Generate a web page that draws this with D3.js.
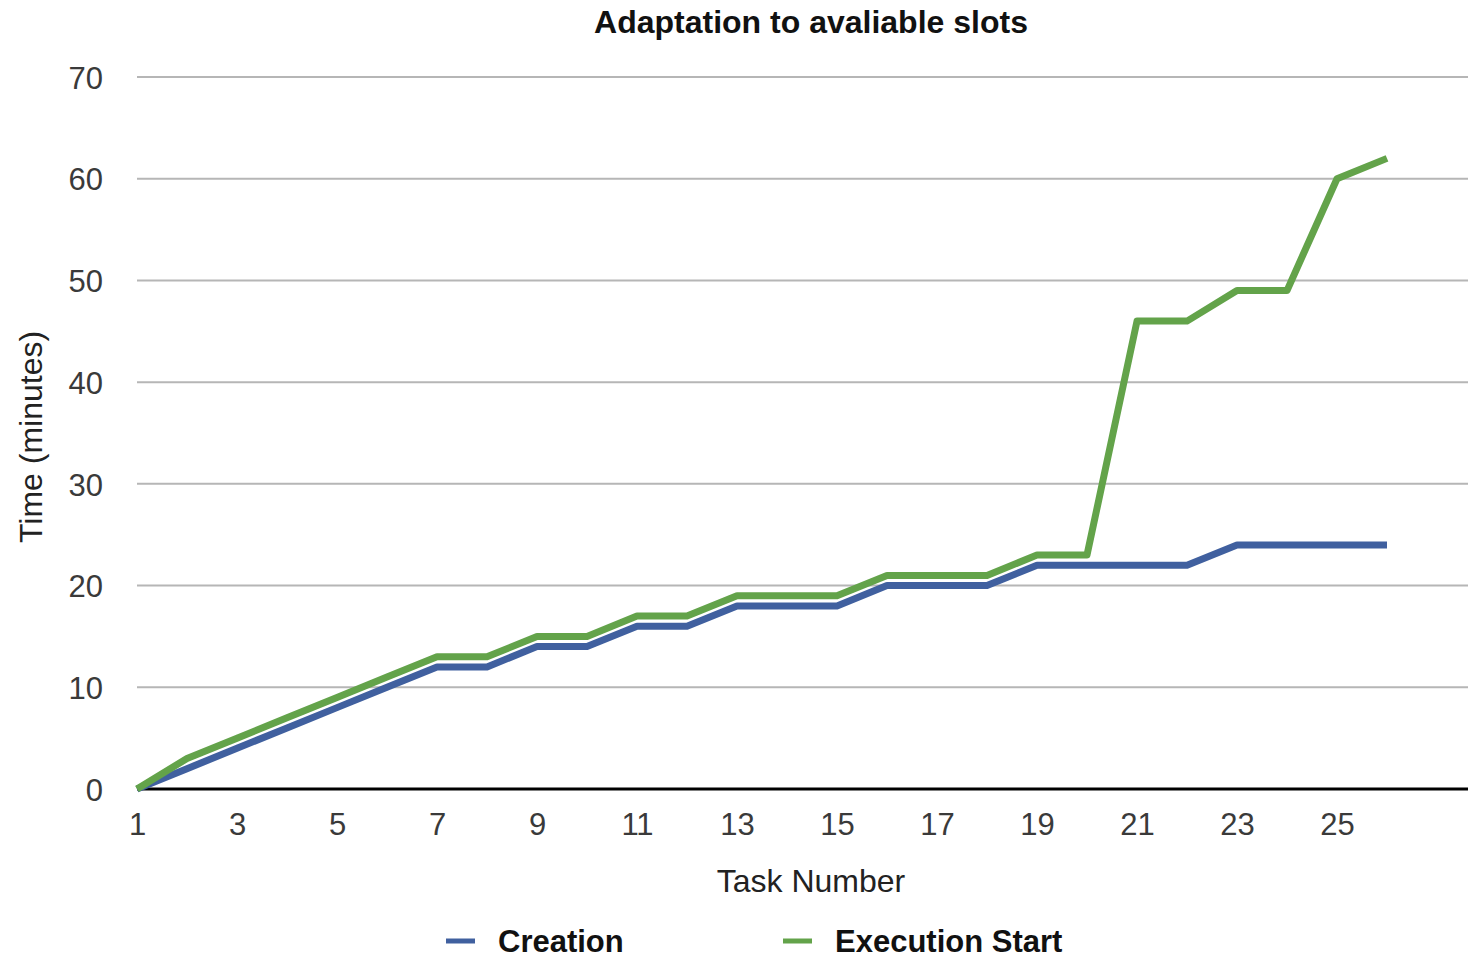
<!DOCTYPE html>
<html>
<head>
<meta charset="utf-8">
<script src="https://cdn.jsdelivr.net/npm/d3@7"></script>
<style>
  html, body { margin: 0; padding: 0; background: #fff; }
  svg { display: block; }
  text { font-family: "Liberation Sans", Arial, Helvetica, sans-serif; }
</style>
</head>
<body>
<svg id="chart" width="1470" height="960"></svg>
<script>
// Task numbers 1..26
const tasks = d3.range(1, 27);
// Minutes at which each task was created
const creation = [0, 2, 4, 6, 8, 10, 12, 12, 14, 14, 16, 16, 18, 18, 18, 20, 20, 20, 22, 22, 22, 22, 24, 24, 24, 24];
// Minutes at which each task started executing
const executionStart = [0, 3, 5, 7, 9, 11, 13, 13, 15, 15, 17, 17, 19, 19, 19, 21, 21, 21, 23, 23, 46, 46, 49, 49, 60, 62];
const xTicks = [1, 3, 5, 7, 9, 11, 13, 15, 17, 19, 21, 23, 25];
const yTicks = [0, 10, 20, 30, 40, 50, 60, 70];
const seriesNames = ["Creation", "Execution Start"];
const seriesColors = ["#40609f", "#63a34a"];

const svg = d3.select("#chart");
const plotLeft = 137, plotRight = 1468, plotTop = 77, plotBottom = 789;

const x = d3.scaleLinear().domain([1, 27.62]).range([plotLeft, plotRight]);
const y = d3.scaleLinear().domain([0, 70]).range([plotBottom, plotTop]);

// Title
svg.append("text")
  .attr("x", 811).attr("y", 33)
  .attr("text-anchor", "middle")
  .attr("font-size", 32).attr("font-weight", "bold")
  .attr("fill", "#111")
  .text("Adaptation to avaliable slots");

// Horizontal grid lines
svg.append("g")
  .selectAll("line")
  .data(yTicks.filter(d => d > 0))
  .join("line")
  .attr("x1", plotLeft).attr("x2", plotRight)
  .attr("y1", d => y(d)).attr("y2", d => y(d))
  .attr("stroke", "#b6b6b6").attr("stroke-width", 2);

// Y axis labels
const yAxis = d3.axisLeft(y).tickValues(yTicks).tickSize(0).tickPadding(34);
svg.append("g")
  .attr("transform", `translate(${plotLeft},0)`)
  .call(yAxis)
  .call(g => g.select(".domain").remove())
  .call(g => g.selectAll("text")
    .attr("font-size", 31)
    .attr("font-family", "Liberation Sans, Arial, sans-serif")
    .attr("fill", "#3a3a3a")
    .attr("dy", "0.36em"));

// X axis labels and baseline
const xAxis = d3.axisBottom(x).tickValues(xTicks).tickSize(0).tickPadding(24).tickFormat(d3.format("d"));
svg.append("g")
  .attr("transform", `translate(0,${plotBottom})`)
  .call(xAxis)
  .call(g => g.select(".domain").remove())
  .call(g => g.selectAll("text")
    .attr("font-size", 31)
    .attr("font-family", "Liberation Sans, Arial, sans-serif")
    .attr("fill", "#3a3a3a"));

svg.append("line")
  .attr("x1", plotLeft).attr("x2", plotRight)
  .attr("y1", y(0)).attr("y2", y(0))
  .attr("stroke", "#000").attr("stroke-width", 3);

// Axis titles
svg.append("text")
  .attr("x", 811).attr("y", 892)
  .attr("text-anchor", "middle")
  .attr("font-size", 32).attr("fill", "#222")
  .text("Task Number");

svg.append("text")
  .attr("transform", "translate(42,437) rotate(-90)")
  .attr("text-anchor", "middle")
  .attr("font-size", 32).attr("fill", "#222")
  .text("Time (minutes)");

// Series lines
const series = [creation, executionStart];
const line = d3.line()
  .x((d, i) => x(tasks[i]))
  .y(d => y(d));

svg.append("g")
  .selectAll("path")
  .data(series)
  .join("path")
  .attr("d", d => line(d))
  .attr("fill", "none")
  .attr("stroke", (d, i) => seriesColors[i])
  .attr("stroke-width", 7)
  .attr("stroke-linejoin", "round");

// Legend
const legendX = [446, 783];
const legend = svg.append("g")
  .selectAll("g")
  .data(seriesNames)
  .join("g")
  .attr("transform", (d, i) => `translate(${legendX[i]},941)`);

legend.append("line")
  .attr("x1", 0).attr("x2", 29)
  .attr("y1", 0).attr("y2", 0)
  .attr("stroke", (d, i) => seriesColors[i])
  .attr("stroke-width", 5);

legend.append("text")
  .attr("x", 52).attr("y", 11)
  .attr("font-size", 31).attr("font-weight", "bold")
  .attr("fill", "#111")
  .text(d => d);
</script>
</body>
</html>
